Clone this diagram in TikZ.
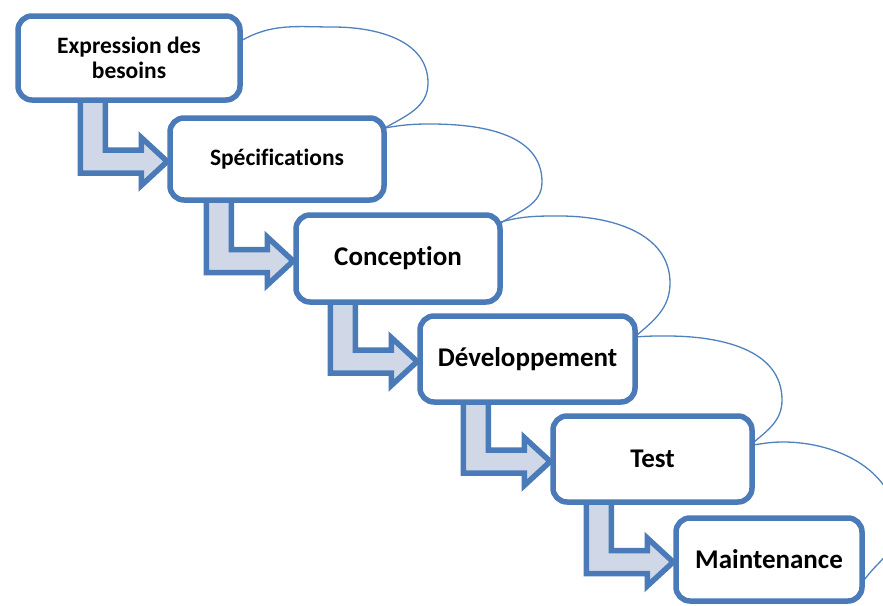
\documentclass[tikz,border=0pt]{standalone}
\usepackage{fontspec}
\setmainfont{Carlito}[Ligatures=NoCommon]
\usetikzlibrary{calc,backgrounds}
\definecolor{boxblue}{HTML}{4A7AB8}
\definecolor{arrowfill}{HTML}{D0D8E8}
\definecolor{curveblue}{HTML}{4F81BD}
\tikzset{
  stepbox/.style={draw=boxblue, line width=5.5pt, fill=white, rounded corners=14pt,
    align=center, inner sep=0pt, font=\bfseries\fontsize{27}{29}\selectfont},
  smalltext/.style={font=\bfseries\fontsize{23.5}{25}\selectfont},
  flowarrow/.style={draw=boxblue, fill=arrowfill, line width=5.5pt, line join=miter},
  loopline/.style={draw=curveblue, line width=1.3pt},
}
\newcommand\steparrow[2]{%
  \path[flowarrow] let \p1=(#1.south), \p2=(#2.west) in
    (\x2-87pt,\y1+5pt) -- (\x2-87pt,\y2-14pt) -- (\x2-26pt,\y2-14pt)
    -- (\x2-26pt,\y2-26.5pt) -- (\x2,\y2-2.5pt) -- (\x2-26pt,\y2+21.5pt)
    -- (\x2-26pt,\y2+9pt) -- (\x2-62pt,\y2+9pt) -- (\x2-62pt,\y1+5pt) -- cycle;}
\begin{document}
\begin{tikzpicture}[x=1pt,y=-1pt]
\useasboundingbox (0,0) rectangle (883,605);
\node[stepbox, smalltext, minimum width=222pt, minimum height=84pt] (b1) at (129,58) {Expression des\\besoins};
\node[stepbox, smalltext, minimum width=214pt, minimum height=82pt] (b2) at (277,159) {Spécifications};
\node[stepbox, minimum width=204pt, minimum height=87pt] (b3) at (398,258.5) {Conception};
\node[stepbox, minimum width=215pt, minimum height=86pt] (b4) at (527.5,359) {Développement};
\node[stepbox, minimum width=199pt, minimum height=86pt] (b5) at (652.5,459) {Test};
\node[stepbox, minimum width=186pt, minimum height=83pt] (b6) at (769,559.5) {Maintenance};
\begin{scope}[on background layer]
  \steparrow{b1}{b2}
  \steparrow{b2}{b3}
  \steparrow{b3}{b4}
  \steparrow{b4}{b5}
  \steparrow{b5}{b6}
  \draw[loopline] ([xshift=-2pt,yshift=17pt]b1.east) to[out=30,in=180] (333,27)
    to[out=0,in=90] (428,83) to[out=-90,in=30] ([xshift=-2pt,yshift=31pt]b2.east);
  \draw[loopline] ([xshift=-2pt,yshift=31pt]b2.east) to[out=10,in=180] (430,124)
    to[out=0,in=90] (542,182) to[out=-90,in=33] ([xshift=-2pt,yshift=35.5pt]b3.east);
  \draw[loopline] ([xshift=-2pt,yshift=36.5pt]b3.east) to[out=15,in=180] (560,216)
    to[out=0,in=90] (670,283) to[out=-90,in=40] ([xshift=-2pt,yshift=23pt]b4.east);
  \draw[loopline] ([xshift=-2pt,yshift=22pt]b4.east) to[out=5,in=180] (667,336)
    to[out=0,in=90] (782,400) to[out=-90,in=40] ([xshift=-2pt,yshift=16pt]b5.east);
  \draw[loopline] ([xshift=-2pt,yshift=14pt]b5.east) to[out=8,in=180] (783,442)
    to[out=0,in=90] (897,527) to[out=-90,in=56] ([xshift=-2pt,yshift=-22.5pt]b6.east);
\end{scope}
\end{tikzpicture}
\end{document}
